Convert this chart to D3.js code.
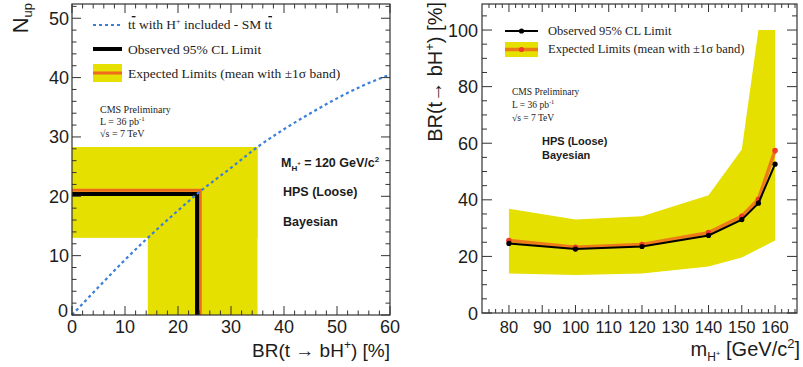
<!DOCTYPE html>
<html><head><meta charset="utf-8">
<script src="https://cdn.jsdelivr.net/npm/d3@7/dist/d3.min.js"></script>
<style>
body{margin:0;background:#fff;}
svg{display:block;}
</style></head>
<body>
<svg id="c" width="803" height="367"></svg>
<script>
// ---------- Left panel data ----------
const curveBR = [0, 5, 10, 14.3, 20, 23.6, 30, 35, 40, 45, 50, 55, 60];
const curveN  = [0, 4.7, 9.3, 13.0, 17.6, 20.4, 24.8, 28.3, 31.3, 34.0, 36.5, 38.7, 40.5];
const expBR = {lo: 14.3, mean: 24.2, hi: 35.0};
const expN  = {lo: 13.0, mean: 21.0, hi: 28.3};
const obsBR = 23.6;
const obsN  = 20.4;
const leftXTicks = [0, 10, 20, 30, 40, 50, 60];
const leftYTicks = [0, 10, 20, 30, 40, 50];

// ---------- Right panel data ----------
const massPoints = [80, 100, 120, 140, 150, 155, 160];
const obsLimit   = [24.6, 22.6, 23.5, 27.4, 33.0, 38.8, 52.6];
const expLimit   = [25.6, 23.2, 24.2, 28.4, 34.2, 40.2, 57.4];
const bandLow    = [14.0, 13.4, 14.0, 16.4, 19.6, 22.6, 25.6];
const bandHigh   = [36.8, 33.0, 34.2, 41.6, 57.8, 100, 100];
const rightXTicks = [80, 90, 100, 110, 120, 130, 140, 150, 160];
const rightYTicks = [0, 20, 40, 60, 80, 100];

const YEL = "#e6e000", ORG = "#ee6a1c", BLUE = "#3b7fd8", INK = "#1c1c1c";
const SANS = "'Liberation Sans', Arial, sans-serif";
const SERIF = "'Liberation Serif', 'Times New Roman', serif";

const svg = d3.select("#c");

function frameTicks(g, x, y, xMinor, yMinor, xTicks, yTicks, xMaj, yMaj) {
  const [x0, x1] = x.range(), [y0, y1] = y.range(); // y0 bottom, y1 top
  const tg = g.append("g").attr("stroke", "#333").attr("stroke-width", 1);
  xMinor.forEach(v => {
    const L = xTicks.includes(v) ? xMaj : xMaj / 2;
    tg.append("line").attr("x1", x(v)).attr("x2", x(v)).attr("y1", y0).attr("y2", y0 - L);
    tg.append("line").attr("x1", x(v)).attr("x2", x(v)).attr("y1", y1).attr("y2", y1 + L);
  });
  yMinor.forEach(v => {
    const L = yTicks.includes(v) ? yMaj : yMaj / 2;
    tg.append("line").attr("y1", y(v)).attr("y2", y(v)).attr("x1", x0).attr("x2", x0 + L);
    tg.append("line").attr("y1", y(v)).attr("y2", y(v)).attr("x1", x1).attr("x2", x1 - L);
  });
  g.append("rect").attr("x", x0).attr("y", y1).attr("width", x1 - x0).attr("height", y0 - y1)
    .attr("fill", "none").attr("stroke", "#333").attr("stroke-width", 1.2);
}

// =============== LEFT PANEL ===============
{
  const x = d3.scaleLinear().domain([0, 60]).range([72, 390]);
  const y = d3.scaleLinear().domain([0, 52.4]).range([315, 4]);
  const g = svg.append("g");

  // expected band (union of two rectangles)
  g.append("rect").attr("x", x(0)).attr("y", y(expN.hi))
    .attr("width", x(expBR.hi) - x(0)).attr("height", y(expN.lo) - y(expN.hi)).attr("fill", YEL);
  g.append("rect").attr("x", x(expBR.lo)).attr("y", y(expN.hi))
    .attr("width", x(expBR.hi) - x(expBR.lo)).attr("height", y(0) - y(expN.hi)).attr("fill", YEL);

  // expected mean
  g.append("path").attr("d", d3.line()([[x(0), y(expN.mean)], [x(expBR.mean), y(expN.mean)], [x(expBR.mean), y(0)]]))
    .attr("fill", "none").attr("stroke", ORG).attr("stroke-width", 3);
  // observed
  g.append("path").attr("d", d3.line()([[x(0), y(obsN)], [x(obsBR), y(obsN)], [x(obsBR), y(0)]]))
    .attr("fill", "none").attr("stroke", "#000").attr("stroke-width", 4);

  // blue dashed curve
  const line = d3.line().x((d, i) => x(curveBR[i])).y((d, i) => y(curveN[i])).curve(d3.curveMonotoneX);
  g.append("path").attr("d", line(curveBR)).attr("fill", "none").attr("stroke", BLUE)
    .attr("stroke-width", 2.2).attr("stroke-dasharray", "3,3");

  const xMinor = d3.range(0, 60.01, 2), yMinor = d3.range(0, 52.01, 2);
  frameTicks(g, x, y, xMinor, yMinor, leftXTicks, leftYTicks, 9, 9);

  // tick labels
  g.selectAll(".xl").data(leftXTicks).join("text").attr("x", d => x(d)).attr("y", 333)
    .attr("text-anchor", "middle").attr("font-family", SANS).attr("font-size", 18).attr("fill", INK).text(d => d);
  g.selectAll(".yl").data(leftYTicks).join("text").attr("x", d => d === 0 ? 68 : 69).attr("y", d => d === 0 ? y(d) + 2 : y(d) + 6.5)
    .attr("text-anchor", "end").attr("font-family", SANS).attr("font-size", 18).attr("fill", INK).text(d => d);

  // axis titles
  const xt = g.append("text").attr("x", 390).attr("y", 357).attr("text-anchor", "end")
    .attr("font-family", SANS).attr("font-size", 19).attr("fill", INK);
  xt.append("tspan").text("BR(t \u2192 bH");
  xt.append("tspan").attr("dy", -8).attr("font-size", 12).text("+");
  xt.append("tspan").attr("dy", 8).text(") [%]");

  const yt = g.append("text").attr("transform", "translate(28,3) rotate(-90)").attr("text-anchor", "end")
    .attr("font-family", SANS).attr("font-size", 22).attr("fill", INK);
  yt.append("tspan").text("N");
  yt.append("tspan").attr("dy", 4).attr("font-size", 13).text("up");

  // legend
  const lg = g.append("g");
  lg.append("line").attr("x1", 93).attr("x2", 122).attr("y1", 25).attr("y2", 25)
    .attr("stroke", BLUE).attr("stroke-width", 2.2).attr("stroke-dasharray", "3,3");
  lg.append("line").attr("x1", 93).attr("x2", 122).attr("y1", 49).attr("y2", 49)
    .attr("stroke", "#000").attr("stroke-width", 4);
  lg.append("rect").attr("x", 93).attr("y", 64).attr("width", 29).attr("height", 18).attr("fill", YEL);
  lg.append("line").attr("x1", 93).attr("x2", 122).attr("y1", 73).attr("y2", 73)
    .attr("stroke", ORG).attr("stroke-width", 3);
  const t1 = lg.append("text").attr("x", 128).attr("y", 29).attr("font-family", SERIF).attr("font-size", 13.5).attr("fill", INK);
  t1.append("tspan").text("t");
  t1.append("tspan").attr("text-decoration", "overline").text("t");
  t1.append("tspan").text(" with H");
  t1.append("tspan").attr("dy", -5).attr("font-size", 8).text("+");
  t1.append("tspan").attr("dy", 5).text(" included - SM t");
  t1.append("tspan").attr("text-decoration", "overline").text("t");
  lg.append("text").attr("x", 128).attr("y", 54).attr("font-family", SERIF).attr("font-size", 13.5).attr("fill", INK)
    .text("Observed 95% CL Limit");
  lg.append("text").attr("x", 128).attr("y", 78).attr("font-family", SERIF).attr("font-size", 13.5).attr("fill", INK)
    .text("Expected Limits (mean with \u00b11\u03c3 band)");

  // CMS text
  const cms = g.append("g").attr("font-family", SERIF).attr("font-size", 10).attr("fill", INK);
  cms.append("text").attr("x", 100).attr("y", 113).text("CMS Preliminary");
  const lt = cms.append("text").attr("x", 100).attr("y", 125);
  lt.append("tspan").text("L = 36 pb");
  lt.append("tspan").attr("dy", -4).attr("font-size", 7).text("-1");
  cms.append("text").attr("x", 100).attr("y", 137).text("\u221as = 7 TeV");

  const b = g.append("g").attr("font-family", SANS).attr("font-size", 12.5).attr("font-weight", "bold").attr("fill", INK);
  const mt = b.append("text").attr("x", 281).attr("y", 167);
  mt.append("tspan").text("M");
  mt.append("tspan").attr("dy", 4).attr("font-size", 8).text("H");
  mt.append("tspan").attr("dy", -6).attr("font-size", 6).text("+");
  mt.append("tspan").attr("dy", 2).text(" = 120 GeV/c");
  mt.append("tspan").attr("dy", -5).attr("font-size", 8).text("2");
  b.append("text").attr("x", 283).attr("y", 196).text("HPS (Loose)");
  b.append("text").attr("x", 283).attr("y", 226).text("Bayesian");
}

// =============== RIGHT PANEL ===============
{
  const x = d3.scaleLinear().domain([71.9, 166.6]).range([482, 797]);
  const y = d3.scaleLinear().domain([0, 109.2]).range([313, 4]);
  const g = svg.append("g");

  const area = d3.area().x((d, i) => x(massPoints[i])).y0((d, i) => y(bandLow[i])).y1((d, i) => y(bandHigh[i]));
  g.append("path").attr("d", area(massPoints)).attr("fill", YEL);

  const lineE = d3.line().x((d, i) => x(massPoints[i])).y((d, i) => y(expLimit[i]));
  g.append("path").attr("d", lineE(massPoints)).attr("fill", "none").attr("stroke", ORG).attr("stroke-width", 3.5).attr("opacity", 0.85);
  g.selectAll(".ed").data(massPoints).join("circle").attr("cx", d => x(d)).attr("cy", (d, i) => y(expLimit[i]))
    .attr("r", 2.8).attr("fill", "#f03c28");

  const lineO = d3.line().x((d, i) => x(massPoints[i])).y((d, i) => y(obsLimit[i]));
  g.append("path").attr("d", lineO(massPoints)).attr("fill", "none").attr("stroke", "#000").attr("stroke-width", 2);
  g.selectAll(".od").data(massPoints).join("circle").attr("cx", d => x(d)).attr("cy", (d, i) => y(obsLimit[i]))
    .attr("r", 2.6).attr("fill", "#000");

  const xMinor = d3.range(74, 166.01, 2), yMinor = d3.range(0, 105.01, 5);
  frameTicks(g, x, y, xMinor, yMinor, rightXTicks, rightYTicks, 8, 10);

  g.selectAll(".xl").data(rightXTicks).join("text").attr("x", d => x(d)).attr("y", 333)
    .attr("text-anchor", "middle").attr("font-family", SANS).attr("font-size", 16.5).attr("fill", INK).text(d => d);
  g.selectAll(".yl").data(rightYTicks).join("text").attr("x", 478).attr("y", d => y(d) + 6.5)
    .attr("text-anchor", "end").attr("font-family", SANS).attr("font-size", 18).attr("fill", INK).text(d => d);

  const xt = g.append("text").attr("x", 800).attr("y", 356).attr("text-anchor", "end")
    .attr("font-family", SANS).attr("font-size", 20).attr("fill", INK);
  xt.append("tspan").text("m");
  xt.append("tspan").attr("dy", 5).attr("font-size", 12).text("H");
  xt.append("tspan").attr("dy", -5).attr("font-size", 8).text("+");
  xt.append("tspan").attr("dy", 0).text(" [GeV/c");
  xt.append("tspan").attr("dy", -8).attr("font-size", 13).text("2");
  xt.append("tspan").attr("dy", 8).text("]");

  const yt = g.append("text").attr("transform", "translate(442,2) rotate(-90)").attr("text-anchor", "end")
    .attr("font-family", SANS).attr("font-size", 20).attr("fill", INK);
  yt.append("tspan").text("BR(t\u2192 bH");
  yt.append("tspan").attr("dy", -8).attr("font-size", 13).text("+");
  yt.append("tspan").attr("dy", 8).text(") [%]");

  // legend
  const lg = g.append("g");
  lg.append("line").attr("x1", 505).attr("x2", 538).attr("y1", 31).attr("y2", 31).attr("stroke", "#000").attr("stroke-width", 2);
  lg.append("circle").attr("cx", 521.5).attr("cy", 31).attr("r", 2.6).attr("fill", "#000");
  lg.append("rect").attr("x", 505).attr("y", 42).attr("width", 33).attr("height", 15).attr("fill", YEL);
  lg.append("line").attr("x1", 505).attr("x2", 538).attr("y1", 49.5).attr("y2", 49.5).attr("stroke", ORG).attr("stroke-width", 3.5).attr("opacity", 0.85);
  lg.append("circle").attr("cx", 521.5).attr("cy", 49.5).attr("r", 2.6).attr("fill", "#f03c28");
  lg.append("text").attr("x", 548).attr("y", 35).attr("font-family", SERIF).attr("font-size", 12.5).attr("fill", INK)
    .text("Observed 95% CL Limit");
  lg.append("text").attr("x", 548).attr("y", 53).attr("font-family", SERIF).attr("font-size", 12.5).attr("fill", INK)
    .text("Expected Limits (mean with \u00b11\u03c3 band)");

  const cms = g.append("g").attr("font-family", SERIF).attr("font-size", 9.5).attr("fill", INK);
  cms.append("text").attr("x", 512).attr("y", 95).text("CMS Preliminary");
  const lt = cms.append("text").attr("x", 512).attr("y", 108);
  lt.append("tspan").text("L = 36 pb");
  lt.append("tspan").attr("dy", -4).attr("font-size", 6.5).text("-1");
  cms.append("text").attr("x", 512).attr("y", 121).text("\u221as = 7 TeV");

  const b = g.append("g").attr("font-family", SANS).attr("font-size", 11).attr("font-weight", "bold").attr("fill", INK);
  b.append("text").attr("x", 542).attr("y", 145).text("HPS (Loose)");
  b.append("text").attr("x", 542).attr("y", 159).text("Bayesian");
}
</script>
</body></html>
